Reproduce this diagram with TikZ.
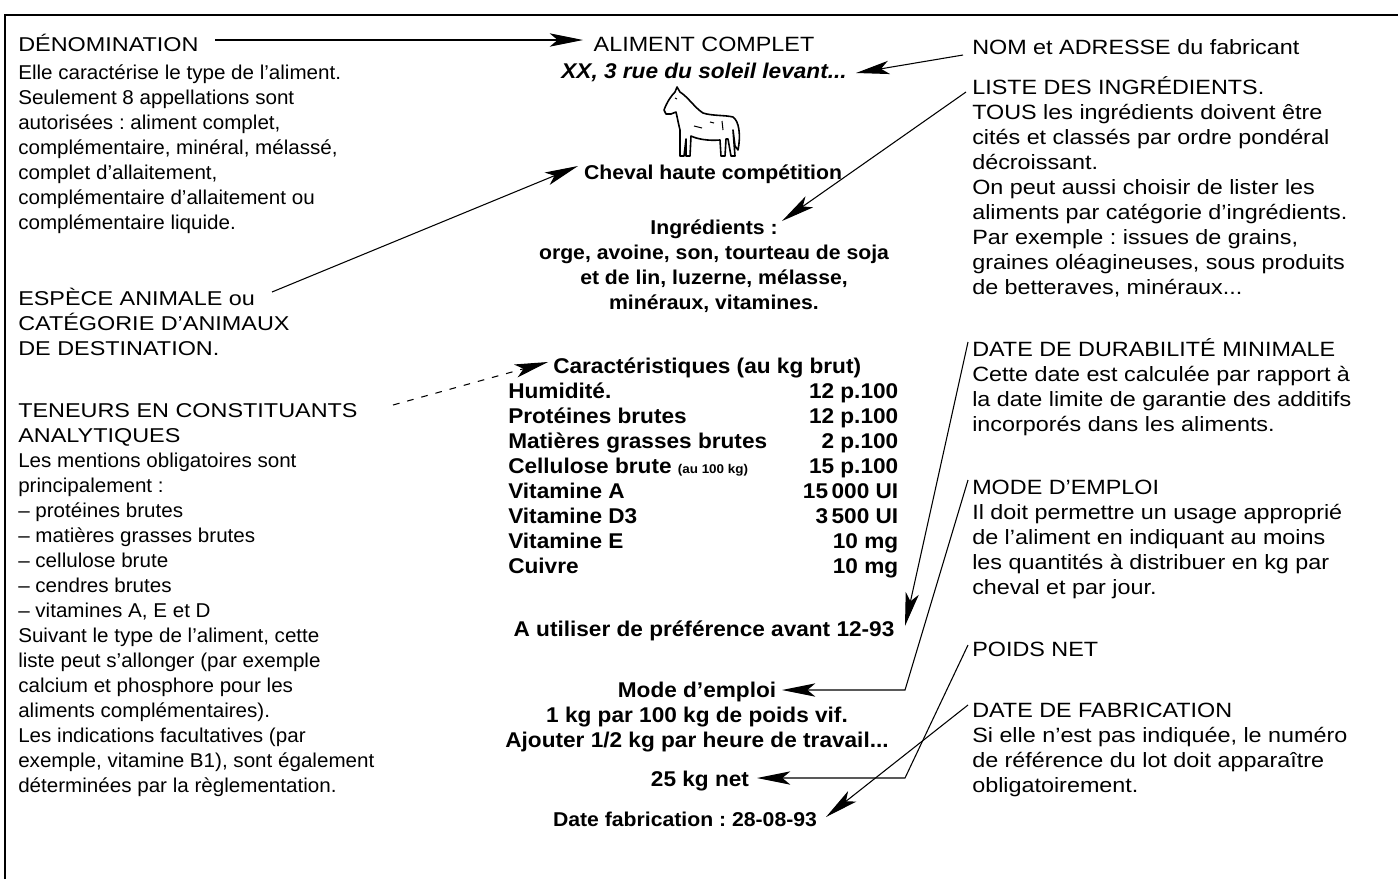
\documentclass[tikz,border=0pt]{standalone}
\usepackage{fontspec}
\setmainfont{Liberation Sans}
\newfontfamily\leftfam[FakeStretch=1.03]{Liberation Sans}
\newfontfamily\lcapsfam[FakeStretch=1.17]{Liberation Sans}
\newfontfamily\rightfam[FakeStretch=1.13]{Liberation Sans}
\newfontfamily\ctrfam[FakeStretch=1.06]{Liberation Sans}
\usetikzlibrary{arrows.meta}
\newcommand\myleft{\fontsize{15}{18.75}\selectfont\leftfam}
\newcommand\mylcaps{\lcapsfam}
\newcommand\myright{\fontsize{15.5}{18.75}\selectfont\rightfam}
\newcommand\mybold{\fontsize{16}{18.75}\selectfont\ctrfam\bfseries}
\newcommand\mysmallbold{\fontsize{15}{18.75}\selectfont\ctrfam\bfseries}
\newcommand\mysmall{\fontsize{9.5}{10}\selectfont\bfseries}
\frenchspacing
\begin{document}
\begin{tikzpicture}[x=0.75pt,y=-0.75pt,
  ltxt/.style={anchor=base west, inner sep=0pt, font=\myleft},
  rtxt/.style={anchor=base west, inner sep=0pt, font=\myright},
  ctr/.style={anchor=base, inner sep=0pt, font=\mybold},
  arr/.style={draw, line width=0.8pt, -{Stealth[length=25pt,width=10pt,inset=6pt]}},
  horse/.style={draw, line width=1.2pt, line join=round, fill=white}]
\useasboundingbox (0,0) rectangle (1398,879);
% frame
\draw[line width=1pt] (5,879) -- (5,15) -- (1398,15);

% ---------- left column
\node[ltxt] (denomh) at (18,51) {\mylcaps DÉNOMINATION};
\node[ltxt] (denomb) at (18,79) {\parbox[t]{330pt}{%
Elle caractérise le type de l’aliment.\\
Seulement 8 appellations sont\\
autorisées : aliment complet,\\
complémentaire, minéral, mélassé,\\
complet d’allaitement,\\
complémentaire d’allaitement ou\\
complémentaire liquide.}};
\node[ltxt] (espece) at (18,305) {\parbox[t]{330pt}{\mylcaps
ESPÈCE ANIMALE ou\\
CATÉGORIE D’ANIMAUX\\
DE DESTINATION.}};
\node[ltxt] (teneurs) at (18,417) {\parbox[t]{330pt}{%
{\mylcaps TENEURS EN CONSTITUANTS}\\
{\mylcaps ANALYTIQUES}\\
Les mentions obligatoires sont\\
principalement :\\
– protéines brutes\\
– matières grasses brutes\\
– cellulose brute\\
– cendres brutes\\
– vitamines A, E et D\\
Suivant le type de l’aliment, cette\\
liste peut s’allonger (par exemple\\
calcium et phosphore pour les\\
aliments complémentaires).\\
Les indications facultatives (par\\
exemple, vitamine B1), sont également\\
déterminées par la règlementation.}};

% ---------- right column
\node[rtxt] (nom) at (972,54) {NOM et ADRESSE du fabricant};
\node[rtxt] (liste) at (972,94) {\parbox[t]{330pt}{%
LISTE DES INGRÉDIENTS.\\
TOUS les ingrédients doivent être\\
cités et classés par ordre pondéral\\
décroissant.\\
On peut aussi choisir de lister les\\
aliments par catégorie d’ingrédients.\\
Par exemple : issues de grains,\\
graines oléagineuses, sous produits\\
de betteraves, minéraux...}};
\node[rtxt] (ddm) at (972,356) {\parbox[t]{330pt}{%
DATE DE DURABILITÉ MINIMALE\\
Cette date est calculée par rapport à\\
la date limite de garantie des additifs\\
incorporés dans les aliments.}};
\node[rtxt] (modeh) at (972,494) {\parbox[t]{330pt}{%
MODE D’EMPLOI\\
Il doit permettre un usage approprié\\
de l’aliment en indiquant au moins\\
les quantités à distribuer en kg par\\
cheval et par jour.}};
\node[rtxt] (poidsh) at (972,656) {POIDS NET};
\node[rtxt] (fabh) at (972,717) {\parbox[t]{330pt}{%
DATE DE FABRICATION\\
Si elle n’est pas indiquée, le numéro\\
de référence du lot doit apparaître\\
obligatoirement.}};

% ---------- centre (label)
\node[ctr, font=\myright] (aliment) at (704,51) {ALIMENT COMPLET};
\node[ctr] (adresse) at (704,78) {\itshape XX, 3 rue du soleil levant...};
\node[ctr, font=\mysmallbold] (cheval) at (713,179) {Cheval haute compétition};
\node[ctr, font=\mysmallbold] (ingr) at (714,234) {\parbox[t]{330pt}{\centering
Ingrédients :\\
orge, avoine, son, tourteau de soja\\
et de lin, luzerne, mélasse,\\
minéraux, vitamines.}};
\node[ctr, anchor=base west] (carac) at (553,373) {Caractéristiques (au kg brut)};
\node[ctr, anchor=base west] (table) at (508,398) {\parbox[t]{292.5pt}{%
Humidité.\hfill 12 p.100\\
Protéines brutes\hfill 12 p.100\\
Matières grasses brutes\hfill 2 p.100\\
Cellulose brute {\mysmall (au 100 kg)}\hfill 15 p.100\\
Vitamine A\hfill 15\,000 UI\\
Vitamine D3\hfill 3\,500 UI\\
Vitamine E\hfill 10 mg\\
Cuivre\hfill 10 mg}};
\node[ctr] (autil) at (704,636) {A utiliser de préférence avant 12-93};
\node[ctr] (mode) at (697,697) {\parbox[t]{330pt}{\centering
Mode d’emploi\\
1 kg par 100 kg de poids vif.\\
Ajouter 1/2 kg par heure de travail...}};
\node[ctr] (net) at (700,786) {25 kg net};
\node[ctr, font=\mysmallbold] (datefab) at (685,826) {Date fabrication : 28-08-93};

% horse
\draw[horse] (664,110) .. controls (667,102) and (671,96) .. (675,92) -- (677,87) -- (680,92)
  .. controls (688,97) and (695,108) .. (703,113)
  .. controls (712,116) and (725,115) .. (733,117)
  .. controls (739,121) and (741,135) .. (738,150) -- (735,146) .. controls (734,138) .. (733,130)
  -- (735,156) -- (731,156) -- (728,139) -- (726,139) -- (725,156) -- (721,156) -- (720,140)
  .. controls (708,141) and (697,139) .. (691,136)
  -- (690,156) -- (686,156) -- (686,139) -- (684,156) -- (680,156) -- (680,130)
  .. controls (678,122) and (677,116) .. (676,112) -- (671,114) -- (666,114) -- cycle;
\draw[line width=0.8pt] (694,126) -- (702,128) (710,122) -- (714,123) (722,121) -- (723,130) (675,98) -- (677,99);

% ---------- connectors
\coordinate (a1s) at (215,40);  \coordinate (a1e) at (583,40);
\draw[arr] (a1s) -- (a1e);
\coordinate (a2s) at (963,55);  \coordinate (a2e) at (856,73);
\draw[arr] (a2s) -- (a2e);
\coordinate (a3s) at (272,292); \coordinate (a3e) at (578,166);
\draw[arr] (a3s) -- (a3e);
\coordinate (a4s) at (966,92);  \coordinate (a4e) at (782,221);
\draw[arr] (a4s) -- (a4e);
\coordinate (a5s) at (393,405); \coordinate (a5e) at (548,362);
\draw[arr, dash pattern=on 5pt off 6pt] (a5s) -- (a5e);
\coordinate (a6s) at (968,342); \coordinate (a6e) at (905,626);
\draw[arr] (a6s) -- (a6e);
\coordinate (a7s) at (968,480); \coordinate (a7m) at (905,690); \coordinate (a7e) at (782,690);
\draw[arr] (a7s) -- (a7m) -- (a7e);
\coordinate (a8s) at (968,645); \coordinate (a8m) at (905,778); \coordinate (a8e) at (757,778);
\draw[arr] (a8s) -- (a8m) -- (a8e);
\coordinate (a9s) at (968,705); \coordinate (a9e) at (826,817);
\draw[arr] (a9s) -- (a9e);
\end{tikzpicture}
\end{document}
